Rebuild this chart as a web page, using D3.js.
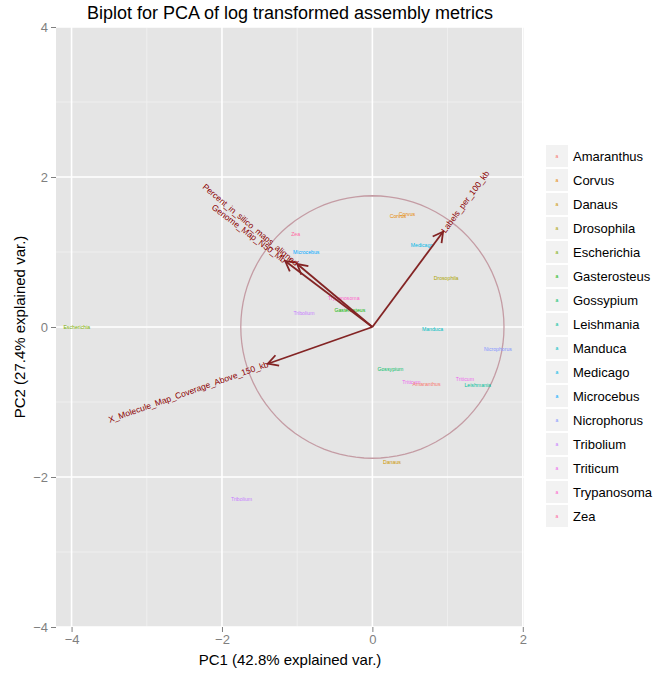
<!DOCTYPE html>
<html>
<head>
<meta charset="utf-8">
<script src="https://cdn.jsdelivr.net/npm/d3@7"></script>
<style>
  html, body { margin: 0; padding: 0; background: #fff; }
  svg { display: block; font-family: 'Liberation Sans', Arial, sans-serif; }
</style>
</head>
<body>
<div id="chart"></div>
<script>
// legend levels + ggplot hue colours
const species = ['Amaranthus', 'Corvus', 'Danaus', 'Drosophila', 'Escherichia', 'Gasterosteus',
  'Gossypium', 'Leishmania', 'Manduca', 'Medicago', 'Microcebus', 'Nicrophorus',
  'Tribolium', 'Triticum', 'Trypanosoma', 'Zea'];
const speciesColors = ['#F8766D', '#E58700', '#CD9600', '#ABA300', '#7CAE00', '#0CB702',
  '#00BE67', '#00C19A', '#00BFC4', '#00B8E7', '#00A9FF', '#8494FF',
  '#C77CFF', '#ED68ED', '#FF61CC', '#FF68A1'];

// sample scores (PC1, PC2)
const sampleNames = ['Escherichia', 'Zea', 'Microcebus', 'Trypanosoma', 'Gasterosteus', 'Tribolium',
  'Corvus', 'Corvus', 'Medicago', 'Drosophila', 'Manduca', 'Nicrophorus', 'Gossypium',
  'Triticum', 'Amaranthus', 'Triticum', 'Leishmania', 'Danaus', 'Tribolium'];
const pc1 = [-3.93, -1.02, -0.88, -0.38, -0.30, -0.91, 0.34, 0.46, 0.66, 0.98, 0.80, 1.67, 0.24,
  0.52, 0.72, 1.23, 1.40, 0.26, -1.74];
const pc2 = [0.00, 1.24, 1.00, 0.39, 0.23, 0.19, 1.48, 1.50, 1.09, 0.65, -0.03, -0.29, -0.56,
  -0.73, -0.76, -0.69, -0.77, -1.80, -2.29];

// variable loadings (arrows)
const varNames = ['Percent_in_silico_maps_aligned', 'Genome_Map_N50_Mb',
  'X_Molecule_Map_Coverage_Above_150_kb', 'Labels_per_100_kb'];
const varPC1 = [-1.00, -1.16, -1.39, 0.94];
const varPC2 = [0.84, 0.88, -0.49, 1.27];

const circleRadius = 1.75;
const xTicks = [-4, -2, 0, 2];
const xMinor = [-3, -1, 1];
const yTicks = [-4, -2, 0, 2, 4];
const yMinor = [-3, -1, 1, 3];

const W = 656, H = 673;
const panel = { left: 56, right: 524, top: 27, bottom: 627 };

const svg = d3.select('#chart').append('svg')
  .attr('width', W).attr('height', H);

const x = d3.scaleLinear().domain([-4.207, 2.016]).range([panel.left, panel.right]);
const y = d3.scaleLinear().domain([-4, 4]).range([panel.bottom, panel.top]);
const color = d3.scaleOrdinal().domain(species).range(speciesColors);

// panel background
svg.append('rect')
  .attr('x', panel.left).attr('y', panel.top)
  .attr('width', panel.right - panel.left).attr('height', panel.bottom - panel.top)
  .attr('fill', '#E5E5E5');

// grid
const grid = svg.append('g');
grid.selectAll('.vmin').data(xMinor).join('line')
  .attr('x1', d => x(d)).attr('x2', d => x(d)).attr('y1', panel.top).attr('y2', panel.bottom)
  .attr('stroke', '#F2F2F2').attr('stroke-width', 0.8);
grid.selectAll('.hmin').data(yMinor).join('line')
  .attr('y1', d => y(d)).attr('y2', d => y(d)).attr('x1', panel.left).attr('x2', panel.right)
  .attr('stroke', '#F2F2F2').attr('stroke-width', 0.8);
grid.selectAll('.vmaj').data(xTicks).join('line')
  .attr('x1', d => x(d)).attr('x2', d => x(d)).attr('y1', panel.top).attr('y2', panel.bottom)
  .attr('stroke', '#fff').attr('stroke-width', 1.6);
grid.selectAll('.hmaj').data(yTicks).join('line')
  .attr('y1', d => y(d)).attr('y2', d => y(d)).attr('x1', panel.left).attr('x2', panel.right)
  .attr('stroke', '#fff').attr('stroke-width', 1.6);

// axes
const fmt = d => d3.format('d')(d).replace('-', '\u2212');
svg.append('g').attr('transform', `translate(0,${panel.bottom})`)
  .call(d3.axisBottom(x).tickValues(xTicks).tickSize(5).tickPadding(3).tickFormat(fmt))
  .call(g => g.select('.domain').remove())
  .call(g => g.selectAll('.tick line').attr('stroke', '#7F7F7F'))
  .call(g => g.selectAll('.tick text').attr('fill', '#7F7F7F').attr('font-size', '13px')
    .attr('font-family', "'Liberation Sans', Arial, sans-serif"));
svg.append('g').attr('transform', `translate(${panel.left},0)`)
  .call(d3.axisLeft(y).tickValues(yTicks).tickSize(5).tickPadding(3).tickFormat(fmt))
  .call(g => g.select('.domain').remove())
  .call(g => g.selectAll('.tick line').attr('stroke', '#7F7F7F'))
  .call(g => g.selectAll('.tick text').attr('fill', '#7F7F7F').attr('font-size', '13px')
    .attr('font-family', "'Liberation Sans', Arial, sans-serif"));

// correlation circle
const circ = d3.range(0, 101).map(i => (i / 100) * 2 * Math.PI);
svg.append('path')
  .attr('d', d3.line().x(a => x(circleRadius * Math.cos(a))).y(a => y(circleRadius * Math.sin(a)))(circ))
  .attr('fill', 'none').attr('stroke', '#C49CA4').attr('stroke-width', 1.3);

// sample labels
svg.append('g').selectAll('text').data(sampleNames).join('text')
  .attr('x', (d, i) => x(pc1[i])).attr('y', (d, i) => y(pc2[i]))
  .attr('text-anchor', 'middle').attr('dy', '0.35em')
  .attr('font-size', '5.2px').attr('fill', d => color(d))
  .text(d => d);

// arrows
svg.append('defs').append('marker')
  .attr('id', 'head').attr('markerUnits', 'userSpaceOnUse')
  .attr('viewBox', '-12 -7 14 14').attr('refX', 0).attr('refY', 0)
  .attr('markerWidth', 14).attr('markerHeight', 14).attr('orient', 'auto')
  .append('path').attr('d', 'M-10,-5.5L0,0L-10,5.5')
  .attr('fill', 'none').attr('stroke', '#832424').attr('stroke-width', 1.8);

const vars = varNames.map((n, i) => ({ name: n, px: varPC1[i], py: varPC2[i] }));
svg.append('g').selectAll('line').data(vars).join('line')
  .attr('x1', x(0)).attr('y1', y(0))
  .attr('x2', d => x(d.px)).attr('y2', d => y(d.py))
  .attr('stroke', '#832424').attr('stroke-width', 1.8)
  .attr('marker-end', 'url(#head)');

svg.append('g').selectAll('text').data(vars).join('text')
  .attr('transform', d => {
    const ang = -Math.atan(d.py / d.px) * 180 / Math.PI;
    return `translate(${x(d.px)},${y(d.py)}) rotate(${ang})`;
  })
  .attr('text-anchor', d => d.px < 0 ? 'end' : 'start')
  .attr('dy', '0.35em')
  .attr('font-size', '8.5px').attr('fill', '#8B0000')
  .text(d => d.name);

// titles
svg.append('text').attr('x', (panel.left + panel.right) / 2).attr('y', 19)
  .attr('text-anchor', 'middle').attr('font-size', '18px').attr('fill', '#000')
  .text('Biplot for PCA of log transformed assembly metrics');
svg.append('text').attr('x', (panel.left + panel.right) / 2).attr('y', 665)
  .attr('text-anchor', 'middle').attr('font-size', '15px').attr('fill', '#000')
  .text('PC1 (42.8% explained var.)');
svg.append('text')
  .attr('transform', `translate(25,${(panel.top + panel.bottom) / 2}) rotate(-90)`)
  .attr('text-anchor', 'middle').attr('font-size', '15px').attr('fill', '#000')
  .text('PC2 (27.4% explained var.)');

// legend
const legend = svg.append('g').attr('transform', 'translate(546,145)');
const rows = legend.selectAll('g').data(species).join('g')
  .attr('transform', (d, i) => `translate(0,${i * 24})`);
rows.append('rect').attr('width', 22).attr('height', 22).attr('fill', '#F2F2F2');
rows.append('text').attr('x', 11).attr('y', 11).attr('dy', '0.35em')
  .attr('text-anchor', 'middle').attr('font-size', '5px')
  .attr('fill', d => color(d)).text('a');
rows.append('text').attr('x', 27).attr('y', 11).attr('dy', '0.35em')
  .attr('font-size', '13px').attr('fill', '#000').text(d => d);
</script>
</body>
</html>
